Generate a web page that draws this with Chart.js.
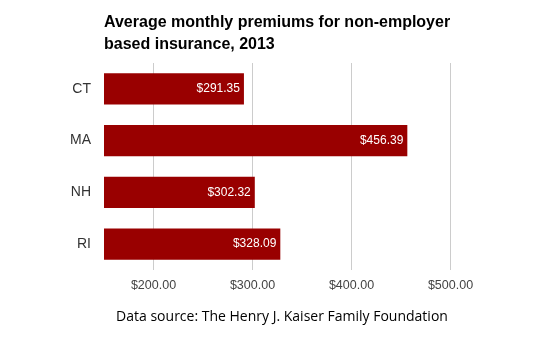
<!DOCTYPE html>
<html>
<head>
<meta charset="utf-8">
<script src="https://cdn.jsdelivr.net/npm/chart.js@4"></script>
<style>
  body { margin: 0; background: #fff; }
  #wrap { width: 555px; height: 352px; position: relative; }
</style>
</head>
<body>
<div id="wrap"><canvas id="chart"></canvas></div>
<script>
const states = ['CT', 'MA', 'NH', 'RI'];
const premiums = [291.35, 456.39, 302.32, 328.09];
const tickValues = [200, 300, 400, 500];
const titleLines = ['Average monthly premiums for non-employer', 'based insurance, 2013'];
const sourceText = 'Data source: The Henry J. Kaiser Family Foundation';

const money = v => '$' + v.toFixed(2);

// title, source line and value labels drawn by hand
const extras = {
  id: 'extras',
  afterDatasetsDraw(chart) {
    const ctx = chart.ctx;
    const area = chart.chartArea;
    ctx.save();
    ctx.fillStyle = '#000';
    ctx.font = 'bold 16px "Liberation Sans", Arial, sans-serif';
    ctx.textAlign = 'left';
    ctx.textBaseline = 'middle';
    titleLines.forEach((t, i) => ctx.fillText(t, area.left, 23 + i * 22));

    ctx.font = '14px "Open Sans", sans-serif';
    ctx.textAlign = 'center';
    ctx.fillText(sourceText, 282, 317);

    ctx.font = '12px "Liberation Sans", Arial, sans-serif';
    ctx.fillStyle = '#fff';
    ctx.textAlign = 'right';
    chart.getDatasetMeta(0).data.forEach((bar, i) => {
      ctx.fillText(money(premiums[i]), bar.x - 4, bar.y);
    });
    ctx.restore();
  }
};

new Chart(document.getElementById('chart'), {
  type: 'bar',
  data: {
    labels: states,
    datasets: [{
      data: premiums,
      backgroundColor: '#990000',
      categoryPercentage: 0.6,
      barPercentage: 1
    }]
  },
  options: {
    indexAxis: 'y',
    responsive: true,
    maintainAspectRatio: false,
    animation: false,
    layout: { padding: { top: 63, right: 55, bottom: 52, left: 0 } },
    plugins: { legend: { display: false }, tooltip: { enabled: false } },
    scales: {
      x: {
        min: 150,
        max: 550,
        afterBuildTicks: axis => { axis.ticks = tickValues.map(v => ({ value: v })); },
        afterFit: s => { s.height = 30; },
        grid: { color: '#cccccc', drawTicks: false },
        border: { display: false },
        ticks: {
          padding: 8,
          color: '#444',
          font: { family: '"Liberation Sans", Arial, sans-serif', size: 12.5 },
          callback: v => money(v)
        }
      },
      y: {
        afterFit: s => { s.width = 104; },
        grid: { display: false, drawTicks: false },
        border: { display: false },
        ticks: {
          padding: 13,
          color: '#333',
          font: { family: '"Liberation Sans", Arial, sans-serif', size: 14 }
        }
      }
    }
  },
  plugins: [extras]
});
</script>
</body>
</html>
